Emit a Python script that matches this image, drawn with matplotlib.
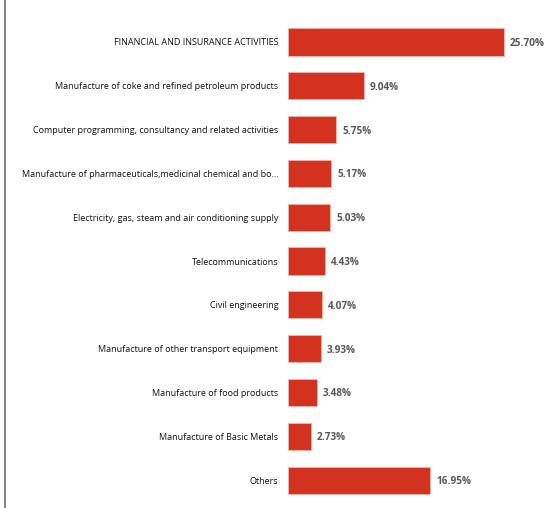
import matplotlib
matplotlib.use("Agg")
import matplotlib.pyplot as plt
from matplotlib.lines import Line2D

categories = [
    "FINANCIAL AND INSURANCE ACTIVITIES",
    "Manufacture of coke and refined petroleum products",
    "Computer programming, consultancy and related activities",
    "Manufacture of pharmaceuticals,medicinal chemical and bo...",
    "Electricity, gas, steam and air conditioning supply",
    "Telecommunications",
    "Civil engineering",
    "Manufacture of other transport equipment",
    "Manufacture of food products",
    "Manufacture of Basic Metals",
    "Others",
]
shares = [25.70, 9.04, 5.75, 5.17, 5.03, 4.43, 4.07, 3.93, 3.48, 2.73, 16.95]

BAR_COLOR = "#d43221"

plt.rcParams["font.family"] = ["Open Sans", "DejaVu Sans"]

fig = plt.figure(figsize=(5.46, 5.08), dpi=100)
ax = fig.add_axes([288 / 546, 0.0118, 252 / 546, 0.9488])

pos = list(range(len(categories)))
ax.barh(pos, shares, height=0.62, color=BAR_COLOR,
        edgecolor="#f2b5ad", linewidth=0.6)
ax.set_xlim(0, 30)
ax.set_ylim(len(categories) - 0.5, -0.5)

for y, v in zip(pos, shares):
    ax.text(v + 0.7, y, f"{v:.2f}%", va="center_baseline", ha="left",
            fontsize=7.2, fontweight="bold", color="#595959")

ax.set_yticks(pos)
ax.set_yticklabels(categories, fontsize=6.45, color="#111111")
ax.tick_params(axis="y", length=0, pad=7)
ax.set_xticks([])
for s in ax.spines.values():
    s.set_visible(False)

# thin frame edge on the left of the panel
fig.add_artist(Line2D([5 / 546, 5 / 546], [0, 1], transform=fig.transFigure,
                      color="#6e6e6e", linewidth=1.2))

fig.savefig("out.png", dpi=100)
